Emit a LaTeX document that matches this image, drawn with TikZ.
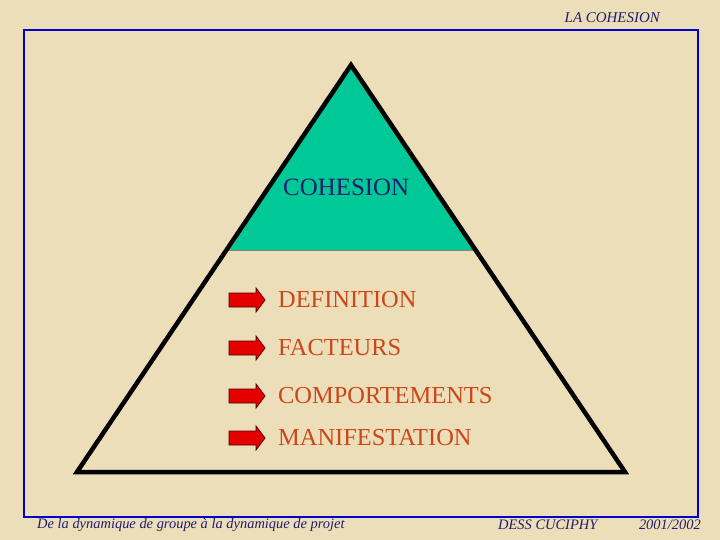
\documentclass[tikz,border=0pt]{standalone}
\usepackage{fontspec}
\setmainfont{Liberation Serif}
\begin{document}
\begin{tikzpicture}[x=1bp,y=-1bp,
  item/.style={anchor=west,text=itemc,font=\fontsize{24.5}{25}\selectfont,inner sep=0pt},
  arr/.style={fill=red!90!black,draw=black!70!red,line width=0.8bp}]
\definecolor{bg}{RGB}{236,222,184}
\definecolor{itemc}{RGB}{205,70,25}
\definecolor{navy}{RGB}{30,30,110}
\definecolor{grn}{RGB}{0,200,150}
\fill[bg] (0,0) rectangle (720,540);
\useasboundingbox (0,0) rectangle (720,540);
\draw[blue!80!black,line width=1.5bp] (24,30) rectangle (698,517);
\fill[grn] (351,65) -- (229,251) -- (474,251) -- cycle;
\draw[gray,line width=1bp] (229,251) -- (474,251);
\draw[black,line width=4.5bp,line join=miter] (351,65) -- (77,472) -- (625,472) -- cycle;
\node[anchor=west,text=navy,font=\fontsize{25}{25}\selectfont,inner sep=0pt] (coh) at (283,187) {COHESION};
\foreach \y/\t/\n in {300/DEFINITION/a,348/FACTEURS/b,396/COMPORTEMENTS/c,438/MANIFESTATION/d}{
  \draw[arr] (229,\y-7) -- (256,\y-7) -- (256,\y-12) -- (265,\y) -- (256,\y+12) -- (256,\y+7) -- (229,\y+7) -- cycle;
  \node[item] (\n) at (278,\y) {\t};
}
\node[anchor=east,text=navy,font=\fontsize{15}{15}\selectfont\itshape,inner sep=0pt] (title) at (660,18) {LA COHESION};
\node[anchor=west,text=navy,font=\fontsize{14.5}{15}\selectfont\itshape,inner sep=0pt] (foot1) at (37,525) {De la dynamique de groupe à la dynamique de projet};
\node[anchor=west,text=navy,font=\fontsize{14.5}{15}\selectfont\itshape,inner sep=0pt] (foot2a) at (498,525) {DESS CUCIPHY};
\node[anchor=east,text=navy,font=\fontsize{14.5}{15}\selectfont\itshape,inner sep=0pt] (foot2b) at (701,525) {2001/2002};
\end{tikzpicture}
\end{document}
